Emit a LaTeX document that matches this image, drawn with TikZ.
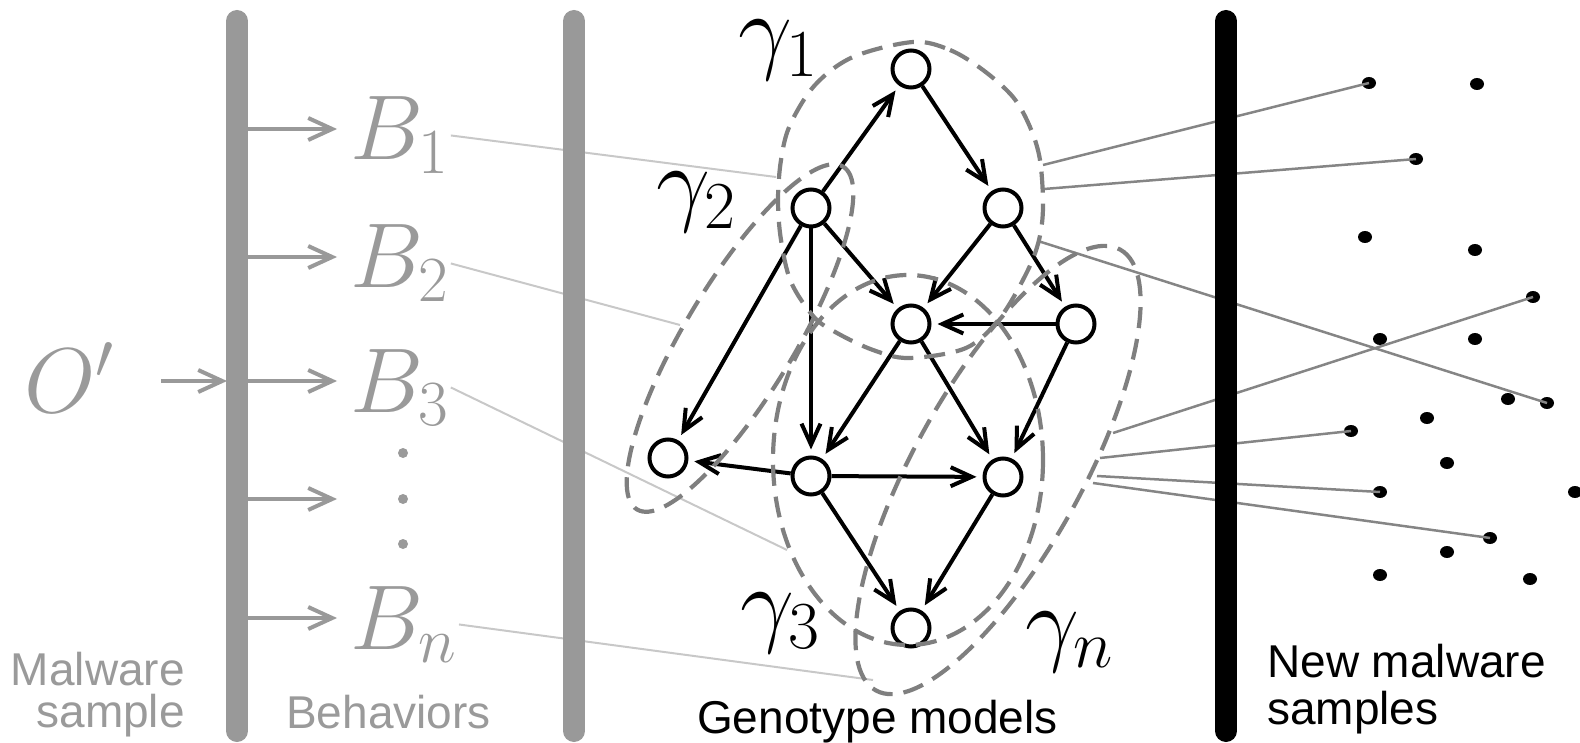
\RequirePackage{fix-cm}
\documentclass[tikz,border=0pt]{standalone}
\usepackage{fontspec}
\newfontfamily\arial{Liberation Sans}
\usetikzlibrary{arrows.meta,shapes.geometric}
\definecolor{barg}{HTML}{999999}
\definecolor{dashg}{HTML}{7F7F7F}
\definecolor{lineg}{HTML}{858585}
\definecolor{lightg}{HTML}{C8C8C8}
\definecolor{textg}{HTML}{9A9A9A}
\begin{document}
\begin{tikzpicture}[x=1pt,y=-1pt,
  gnode/.style={circle,draw=black,line width=4pt,minimum size=37pt,inner sep=0pt},
  edge/.style={draw=black,line width=4pt,-{Straight Barb[length=21pt,width=19pt,line width=4pt]},shorten >=6pt},
  garrow/.style={draw=barg,line width=4pt,-{Straight Barb[length=24pt,width=22pt,line width=4pt]}},
  region/.style={draw=dashg,line width=4.2pt,dash pattern=on 21pt off 11pt},
  bline/.style={draw=lightg,line width=2pt},
  sline/.style={draw=lineg,line width=2.5pt},
  sdot/.style={ellipse,fill=black,minimum width=14pt,minimum height=12pt,inner sep=0pt},
  gdot/.style={circle,fill=textg,minimum size=10pt,inner sep=0pt},
  bigmath/.style={font=\fontsize{92}{96}\selectfont,text=textg,inner sep=2pt},
  gammalab/.style={font=\fontsize{96}{100}\selectfont,inner sep=0pt},
  gtext/.style={font=\arial\fontsize{46}{50}\selectfont,text=textg,inner sep=0pt},
  btext/.style={font=\arial\fontsize{46}{50}\selectfont,text=black,inner sep=0pt},
  bar/.style={line width=22pt,line cap=round}
]
\useasboundingbox (0,0) rectangle (1580,743);

% ---------- left labels ----------
\node[bigmath,anchor=base west] (o) at (22,412) {$O'$};
\node[bigmath,anchor=base west] (b1) at (348,160) {$B_1$};
\node[bigmath,anchor=base west] (b2) at (348,288) {$B_2$};
\node[bigmath,anchor=base west] (b3) at (348,412) {$B_3$};
\node[bigmath,anchor=base west] (bn) at (348,649) {$B_n$};
\node[gdot] (v1) at (403,453) {};
\node[gdot] (v2) at (403,499) {};
\node[gdot] (v3) at (403,544) {};

\node[gtext,anchor=base east] (mal) at (185,685) {Malware};
\node[gtext,anchor=base east] (sam) at (185,727) {sample};
\node[gtext,anchor=base west] (beh) at (286,728) {Behaviors};
\node[btext,anchor=base west] (geno) at (697,733) {Genotype models};
\node[btext,anchor=base west] (newm) at (1267,677) {New malware};
\node[btext,anchor=base west] (nsam) at (1267,724) {samples};

% ---------- graph nodes ----------
\node[gnode] (n1) at (911,69) {};
\node[gnode] (n2) at (811,208) {};
\node[gnode] (n3) at (1003,208) {};
\node[gnode] (n4) at (911,324) {};
\node[gnode] (n5) at (1076,324) {};
\node[gnode] (n6) at (668,458) {};
\node[gnode] (n7) at (811,476) {};
\node[gnode] (n8) at (1003,477) {};
\node[gnode] (n9) at (911,628) {};

\node[gammalab,anchor=base west] (g1) at (738,62) {$\gamma_1$};
\node[gammalab,anchor=base west] (g2) at (656,214) {$\gamma_2$};
\node[gammalab,anchor=base west] (g3) at (740,634) {$\gamma_3$};
\node[gammalab,anchor=base west] (gn) at (1025,653) {$\gamma_n$};

% ---------- sample dots ----------
\node[sdot] (d1) at (1369,83) {};
\node[sdot] (d2) at (1477,84) {};
\node[sdot] (d3) at (1416,159) {};
\node[sdot] (d4) at (1365,237) {};
\node[sdot] (d5) at (1475,250) {};
\node[sdot] (d6) at (1533,297) {};
\node[sdot] (d7) at (1380,339) {};
\node[sdot] (d8) at (1475,339) {};
\node[sdot] (d9) at (1508,399) {};
\node[sdot] (d10) at (1547,403) {};
\node[sdot] (d11) at (1427,418) {};
\node[sdot] (d12) at (1351,431) {};
\node[sdot] (d13) at (1447,463) {};
\node[sdot] (d14) at (1380,492) {};
\node[sdot] (d15) at (1575,492) {};
\node[sdot] (d16) at (1490,538) {};
\node[sdot] (d17) at (1447,552) {};
\node[sdot] (d18) at (1380,575) {};
\node[sdot] (d19) at (1530,579) {};

% ---------- anchor points on the model regions ----------
\coordinate (r1) at (776,177);
\coordinate (r2) at (680,325);
\coordinate (r3) at (787,550);
\coordinate (rn) at (873,680);
\coordinate (q1) at (1043,165);
\coordinate (q2) at (1044,189);
\coordinate (q3) at (1038,241);
\coordinate (q4) at (1113,433);
\coordinate (q5) at (1100,458);
\coordinate (q6) at (1097,476);
\coordinate (q7) at (1093,483);

% behaviour -> model lines
\draw[bline] (b1.east) -- (r1);
\draw[bline] (b2.east) -- (r2);
\draw[bline] (b3.east) -- (r3);
\draw[bline] (bn.east) -- (rn);

% model -> sample lines
\draw[sline] (q1) -- (d1.center);
\draw[sline] (q2) -- (d3.center);
\draw[sline] (q3) -- (d10.center);
\draw[sline] (q4) -- (d6.center);
\draw[sline] (q5) -- (d12.center);
\draw[sline] (q6) -- (d14.center);
\draw[sline] (q7) -- (d16.center);

% ---------- bars ----------
\coordinate (t1) at (237,21); \coordinate (u1) at (237,731);
\coordinate (t2) at (574,21); \coordinate (u2) at (574,731);
\coordinate (t3) at (1226,21); \coordinate (u3) at (1226,731);
\draw[bar,barg] (t1) -- (u1);
\draw[bar,barg] (t2) -- (u2);
\draw[bar,black] (t3) -- (u3);

% ---------- left arrows ----------
\coordinate (oin) at (161,381); \coordinate (oout) at (227,381);
\draw[garrow] (oin) -- (oout);
\foreach \i/\y in {1/129,2/257,3/381,4/499,5/618}{
  \coordinate (as\i) at (248,\y); \coordinate (ae\i) at (337,\y);
  \draw[garrow] (as\i) -- (ae\i);
}

% ---------- graph edges ----------
\draw[edge] (n2) -- (n1);
\draw[edge] (n1) -- (n3);
\draw[edge] (n2) -- (n4);
\draw[edge] (n2) -- (n6);
\draw[edge] (n2) -- (n7);
\draw[edge] (n3) -- (n4);
\draw[edge] (n3) -- (n5);
\draw[edge] (n5) -- (n4);
\draw[edge] (n4) -- (n7);
\draw[edge] (n4) -- (n8);
\draw[edge] (n5) -- (n8);
\draw[edge] (n7) -- (n6);
\draw[edge] (n7) -- (n8);
\draw[edge] (n7) -- (n9);
\draw[edge] (n8) -- (n9);

% ---------- model regions ----------
\draw[region] plot[smooth cycle,tension=0.55] coordinates {
  (913,42) (950,50) (983,70) (1013,97) (1030,127) (1040,160) (1043,207)
  (1039,240) (1027,272) (1000,318) (966,348) (909,358) (873,350) (837,333)
  (814,317) (791,282) (781,240) (778,200) (781,160) (790,125) (815,85) (853,57)};
\draw[region,rotate around={59:(740,338)}] (740,338) ellipse[x radius=200,y radius=55];
\draw[region] (908,460) ellipse[x radius=135,y radius=185];
\draw[region,rotate around={61:(998,470)}] (998,470) ellipse[x radius=252,y radius=84];
\end{tikzpicture}
\end{document}
